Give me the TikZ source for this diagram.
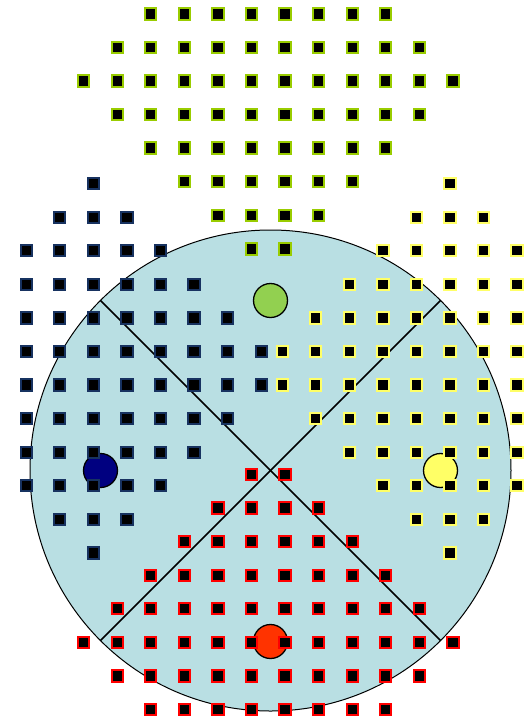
\documentclass[tikz,border=0pt]{standalone}
\definecolor{disc}{RGB}{185,223,227}
\definecolor{gborder}{RGB}{153,204,0}
\definecolor{bborder}{RGB}{23,50,96}
\definecolor{yborder}{RGB}{255,255,102}
\definecolor{rborder}{RGB}{255,0,0}
\definecolor{gdot}{RGB}{146,208,80}
\definecolor{bdot}{RGB}{0,0,128}
\definecolor{ydot}{RGB}{255,255,102}
\definecolor{rdot}{RGB}{255,51,0}
\begin{document}
\begin{tikzpicture}[x=1pt,y=-1pt,
  sq/.style={draw=#1, line width=2pt, fill=black, minimum size=11.3pt, inner sep=0pt, outer sep=0pt, rectangle},
  dot/.style={circle, draw=black, line width=1.3pt, fill=#1, minimum size=34pt, inner sep=0pt},
  axis/.style={line width=1.5pt, draw=black}]
\useasboundingbox (0,0) rectangle (523,721);
\def\s{33.57}
% disc
\coordinate (c) at (270.5,470.5);
\draw[fill=disc, line width=1pt] (c) circle[radius=240.5];
\coordinate (tl) at (100.5,300.5);
\coordinate (tr) at (440.5,300.5);
\coordinate (bl) at (100.5,640.5);
\coordinate (br) at (440.5,640.5);
\draw[axis] (tl) -- (br);
\draw[axis] (tr) -- (bl);
% coloured dots
\node[dot=gdot] (g) at (270.5,300.5) {};
\node[dot=bdot] (b) at (100.5,470.5) {};
\node[dot=ydot] (y) at (440.5,470.5) {};
\node[dot=rdot] (r) at (270.5,641.5) {};
% green squares
\foreach \r in {-2,...,5}{
  \pgfmathtruncatemacro\n{6-abs(\r)}
  \pgfmathtruncatemacro\m{\n-1}
  \foreach \k in {-\n,...,\m}{
    \node[sq=gborder] at ({268.3+(\k+0.5)*\s},{81+\r*\s}) {};
  }
}
% red squares
\foreach \r in {-5,...,2}{
  \pgfmathtruncatemacro\n{6-abs(\r)}
  \pgfmathtruncatemacro\m{\n-1}
  \foreach \k in {-\n,...,\m}{
    \node[sq=rborder] at ({268.3+(\k+0.5)*\s},{642.3+\r*\s}) {};
  }
}
% blue and yellow squares
\foreach \j in {0,...,5}{
  \pgfmathtruncatemacro\n{5-\j}
  \pgfmathtruncatemacro\lo{max(-2,-\n)}
  \pgfmathtruncatemacro\hi{min(2,\n)}
  \foreach \sg in {-1,1}{
    \foreach \k in {\lo,...,\n}{
      \node[sq=bborder] at ({93.3+\k*\s},{368.3+\sg*(\j+0.5)*\s}) {};
    }
    \foreach \k in {-\n,...,\hi}{
      \node[sq=yborder] at ({450+\k*\s},{368.3+\sg*(\j+0.5)*\s}) {};
    }
  }
}
\end{tikzpicture}
\end{document}
